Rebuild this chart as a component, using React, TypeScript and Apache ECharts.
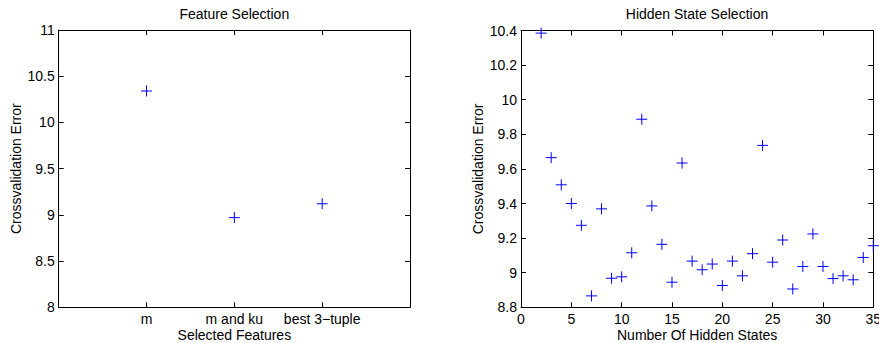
import React, { useEffect, useRef } from "react";
import * as echarts from "echarts";

const featureNames = ["m", "m and ku", "best 3\u2212tuple"];
const featureErrors = [10.34, 8.97, 9.12];

const hiddenStates = [2, 3, 4, 5, 6, 7, 8, 9, 10, 11, 12, 13, 14, 15, 16, 17, 18, 19, 20, 21, 22, 23, 24, 25, 26, 27, 28, 29, 30, 31, 32, 33, 34, 35];
const hiddenErrors = [10.385, 9.665, 9.508, 9.4, 9.274, 8.866, 9.369, 8.968, 8.976, 9.115, 9.887, 9.386, 9.164, 8.945, 9.634, 9.067, 9.017, 9.05, 8.926, 9.067, 8.982, 9.11, 9.736, 9.061, 9.189, 8.906, 9.036, 9.224, 9.036, 8.966, 8.982, 8.959, 9.088, 9.156];

const FONT = "Liberation Sans, Arial, Helvetica, sans-serif";
const FS = 14;
const BLUE = "#0000ff";

export default function App() {
  const ref = useRef<HTMLDivElement>(null);
  useEffect(() => {
    if (!ref.current) return;
    const chart = echarts.init(ref.current, undefined, { renderer: "svg" });
    const line = { show: true, onZero: false, lineStyle: { color: "#000", width: 1 } };
    const tick = { show: true, inside: true, length: 5, lineStyle: { color: "#000", width: 1 } };
    const label = { color: "#000", fontSize: FS, fontFamily: FONT };
    const nameStyle = { color: "#000", fontSize: FS, fontFamily: FONT, lineHeight: 14 };
    const plus = "path://M0,6L12,6M6,0L6,12";

    const option: any = {
      animation: false,
      backgroundColor: "#fff",
      grid: [
        { left: 58.7, top: 30, width: 351.3, height: 277.3, containLabel: false, outerBoundsMode: "none" },
        { left: 521, top: 30.5, width: 352.3, height: 276.8, containLabel: false, outerBoundsMode: "none" },
      ],
      xAxis: [
        {
          gridIndex: 0, type: "value", min: 0, max: 4, interval: 1, position: "bottom",
          axisLine: line, axisTick: tick, splitLine: { show: false },
          axisLabel: { ...label, margin: 5, showMinLabel: true, showMaxLabel: true,
            formatter: (v: number) => (v >= 1 && v <= featureNames.length ? featureNames[v - 1] : "") },
          name: "Selected Features", nameLocation: "middle", nameGap: 20.5, nameMoveOverlap: false, nameTextStyle: nameStyle,
        },
        {
          gridIndex: 0, type: "value", min: 0, max: 4, interval: 1, position: "top",
          axisLine: line, axisTick: tick, axisLabel: { show: false }, splitLine: { show: false },
        },
        {
          gridIndex: 1, type: "value", min: 0, max: 35, interval: 5, position: "bottom",
          axisLine: line, axisTick: tick, splitLine: { show: false },
          axisLabel: { ...label, margin: 5, showMinLabel: true, showMaxLabel: true },
          name: "Number Of Hidden States", nameLocation: "middle", nameGap: 20.5, nameMoveOverlap: false, nameTextStyle: nameStyle,
        },
        {
          gridIndex: 1, type: "value", min: 0, max: 35, interval: 5, position: "top",
          axisLine: line, axisTick: tick, axisLabel: { show: false }, splitLine: { show: false },
        },
      ],
      yAxis: [
        {
          gridIndex: 0, type: "value", min: 8, max: 11, interval: 0.5, position: "left",
          axisLine: line, axisTick: tick, splitLine: { show: false },
          axisLabel: { ...label, margin: 4, showMinLabel: true, showMaxLabel: true },
          name: "Crossvalidation Error", nameLocation: "middle", nameGap: 36, nameMoveOverlap: false, nameTextStyle: nameStyle,
        },
        {
          gridIndex: 0, type: "value", min: 8, max: 11, interval: 0.5, position: "right",
          axisLine: line, axisTick: tick, axisLabel: { show: false }, splitLine: { show: false },
        },
        {
          gridIndex: 1, type: "value", min: 8.8, max: 10.4, interval: 0.2, position: "left",
          axisLine: line, axisTick: tick, splitLine: { show: false },
          axisLabel: { ...label, margin: 4, showMinLabel: true, showMaxLabel: true,
            formatter: (v: number) => String(Math.round(v * 10) / 10) },
          name: "Crossvalidation Error", nameLocation: "middle", nameGap: 36, nameMoveOverlap: false, nameTextStyle: nameStyle,
        },
        {
          gridIndex: 1, type: "value", min: 8.8, max: 10.4, interval: 0.2, position: "right",
          axisLine: line, axisTick: tick, axisLabel: { show: false }, splitLine: { show: false },
        },
      ],
      graphic: [
        { type: "text", x: 234.3, y: 14, style: { text: "Feature Selection", fill: "#000", font: `${FS}px ${FONT}`, textAlign: "center", textVerticalAlign: "middle" } },
        { type: "text", x: 697, y: 14, style: { text: "Hidden State Selection", fill: "#000", font: `${FS}px ${FONT}`, textAlign: "center", textVerticalAlign: "middle" } },
      ],
      series: [
        {
          type: "scatter", xAxisIndex: 0, yAxisIndex: 0, clip: false,
          symbol: plus, symbolSize: 11,
          itemStyle: { color: "transparent", borderColor: BLUE, borderWidth: 1, opacity: 1 },
          data: featureErrors.map((v, i) => [i + 1, v]),
        },
        {
          type: "scatter", xAxisIndex: 2, yAxisIndex: 2, clip: false,
          symbol: plus, symbolSize: 11,
          itemStyle: { color: "transparent", borderColor: BLUE, borderWidth: 1, opacity: 1 },
          data: hiddenStates.map((s, i) => [s, hiddenErrors[i]]),
        },
      ],
    };
    chart.setOption(option);
    return () => chart.dispose();
  }, []);
  return <div ref={ref} style={{ position: "fixed", left: 0, top: 0, width: 879, height: 343 }} />;
}
